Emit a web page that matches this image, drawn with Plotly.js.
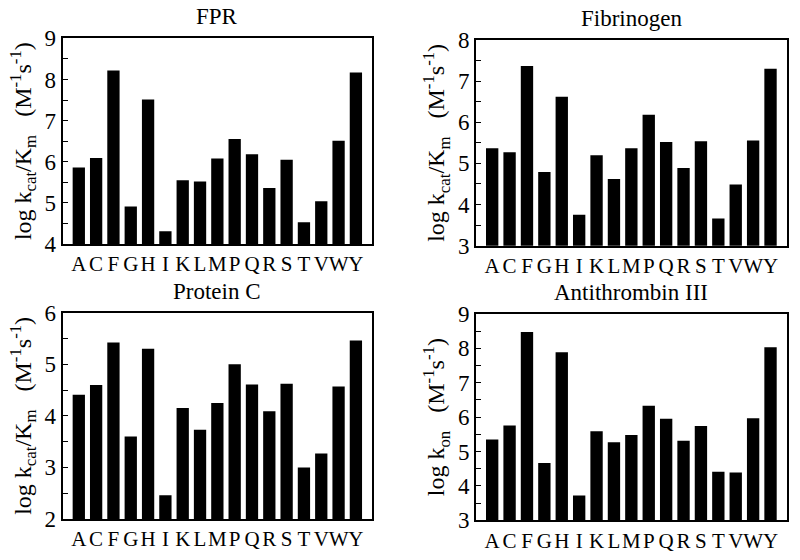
<!DOCTYPE html>
<html>
<head>
<meta charset="utf-8">
<script src="https://cdn.plot.ly/plotly-3.0.1.min.js"></script>
<style>
  html, body { margin: 0; padding: 0; background: #fff; }
  #chart { width: 800px; height: 560px; }
</style>
</head>
<body>
<div id="chart"></div>
<script>
// Categories (amino acid residues)
const residues = ["A","C","F","G","H","I","K","L","M","P","Q","R","S","T","V","W","Y"];

// Panel titles
const panelTitles = ["FPR", "Fibrinogen", "Protein C", "Antithrombin III"];

// Series values (log k)
const fprValues = [5.86, 6.09, 8.22, 4.91, 7.51, 4.31, 5.55, 5.52, 6.08, 6.55, 6.18, 5.36, 6.05, 4.53, 5.04, 6.51, 8.17];
const fibrinogenValues = [5.37, 5.27, 7.37, 4.79, 6.62, 3.75, 5.20, 4.62, 5.37, 6.18, 5.52, 4.89, 5.54, 3.66, 4.49, 5.56, 7.30];
const proteinCValues = [4.41, 4.60, 5.42, 3.60, 5.30, 2.46, 4.15, 3.73, 4.25, 5.00, 4.61, 4.09, 4.62, 3.00, 3.27, 4.57, 5.46];
const antithrombinValues = [5.35, 5.76, 8.48, 4.67, 7.89, 3.72, 5.59, 5.27, 5.48, 6.33, 5.95, 5.31, 5.74, 4.41, 4.39, 5.97, 8.03];

// Y-axis ranges
const yRanges = [[4, 9], [3, 8], [2, 6], [3, 9]];

// Y-axis titles
const yTitles = [
  "log k<sub>cat</sub>/K<sub>m</sub>&nbsp;&nbsp;&nbsp;(M<sup>-1</sup>s<sup>-1</sup>)",
  "log k<sub>cat</sub>/K<sub>m</sub>&nbsp;&nbsp;&nbsp;(M<sup>-1</sup>s<sup>-1</sup>)",
  "log k<sub>cat</sub>/K<sub>m</sub>&nbsp;&nbsp;&nbsp;(M<sup>-1</sup>s<sup>-1</sup>)",
  "log k<sub>on</sub>&nbsp;&nbsp;&nbsp;(M<sup>-1</sup>s<sup>-1</sup>)"
];

const seriesList = [fprValues, fibrinogenValues, proteinCValues, antithrombinValues];

const W = 800, H = 560;
// pixel boxes [left, right, top, bottom]
const boxes = [
  [62.7, 372, 38.3, 244],
  [476, 786.7, 40, 245.7],
  [62.7, 372, 312.7, 519],
  [476, 786.7, 314, 520.3]
];

const FONT = "Liberation Serif";

const traces = [];
const layout = {
  width: W, height: H,
  margin: {l: 0, r: 0, t: 0, b: 0},
  paper_bgcolor: "#fff",
  plot_bgcolor: "#fff",
  showlegend: false,
  bargap: 0.29,
  font: {family: FONT, color: "#000", size: 21},
  annotations: []
};

seriesList.forEach((vals, i) => {
  const n = i === 0 ? "" : String(i + 1);
  traces.push({
    type: "bar",
    x: residues,
    y: vals,
    xaxis: "x" + n,
    yaxis: "y" + n,
    marker: {color: "#000", line: {width: 0}},
    hoverinfo: "x+y"
  });
  const b = boxes[i];
  layout["xaxis" + n] = {
    domain: [b[0] / W, b[1] / W],
    anchor: "y" + n,
    type: "category",
    range: [-0.93, residues.length - 1 + 0.93],
    tickmode: "array",
    tickvals: residues,
    ticktext: residues,
    tickangle: 0,
    showline: true, linecolor: "#000", linewidth: 2, mirror: true,
    ticks: "", showgrid: false, zeroline: false,
    tickfont: {family: FONT, size: 21, color: "#000"},
    fixedrange: true
  };
  layout["yaxis" + n] = {
    domain: [1 - b[3] / H, 1 - b[2] / H],
    anchor: "x" + n,
    range: yRanges[i],
    dtick: 1,
    showline: true, linecolor: "#000", linewidth: 2, mirror: true,
    ticks: "inside", ticklen: 5, tickwidth: 1, tickcolor: "#000",
    minor: {dtick: 0.5, ticks: "inside", ticklen: 5, tickwidth: 1, tickcolor: "#000"},
    showgrid: false, zeroline: false,
    tickfont: {family: FONT, size: 23, color: "#000"},
    title: {text: yTitles[i], font: {family: FONT, size: 24, color: "#000"}, standoff: 6},
    fixedrange: true
  };
  layout.annotations.push({
    text: panelTitles[i],
    xref: "paper", yref: "paper",
    x: (b[0] + b[1]) / 2 / W,
    y: 1 - (b[2] - 7) / H,
    xanchor: "center", yanchor: "bottom",
    showarrow: false,
    font: {family: FONT, size: 23, color: "#000"}
  });
});

Plotly.newPlot("chart", traces, layout, {displayModeBar: false});
</script>
</body>
</html>
